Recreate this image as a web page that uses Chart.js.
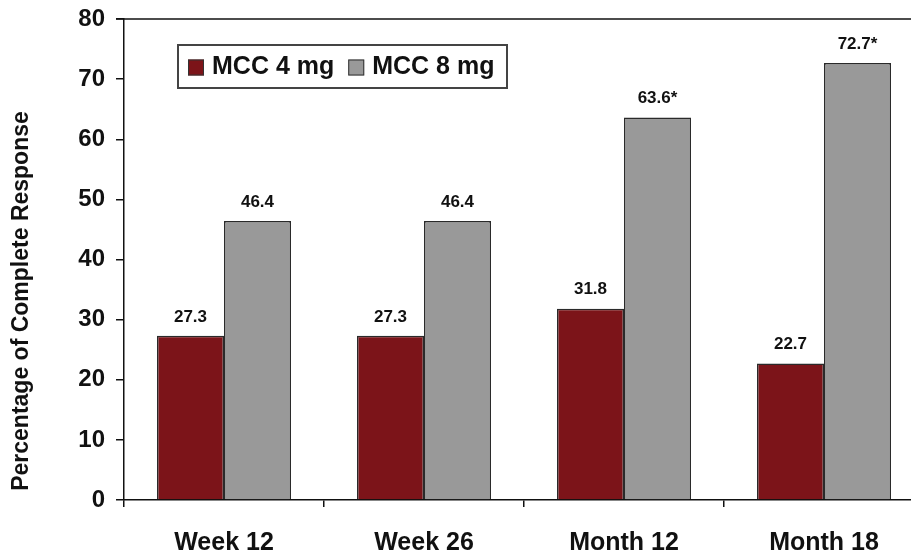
<!DOCTYPE html>
<html>
<head>
<meta charset="utf-8">
<script src="https://cdn.jsdelivr.net/npm/chart.js@4/dist/chart.umd.min.js"></script>
<style>
  html, body { margin: 0; padding: 0; background: #fff; overflow: hidden; }
  #wrap { width: 911px; height: 556px; overflow: hidden; }
  canvas { display: block; }
</style>
</head>
<body>
<div id="wrap"><canvas id="c" width="924" height="556"></canvas></div>
<script>
// Time points and response rates (%)
const categories = ['Week 12', 'Week 26', 'Month 12', 'Month 18'];
const seriesNames = ['MCC 4 mg', 'MCC 8 mg'];
const mcc4 = [27.3, 27.3, 31.8, 22.7];
const mcc8 = [46.4, 46.4, 63.6, 72.7];
// Significance markers shown next to the value labels
const mcc4Sig = [false, false, false, false];
const mcc8Sig = [false, false, true, true];
const yTicks = [0, 10, 20, 30, 40, 50, 60, 70, 80];
const yTitle = 'Percentage of Complete Response';

const FONT = 'Arial, "Liberation Sans", Helvetica, sans-serif';
const RED = '#7c1419';
const GRAY = '#999999';

// Value labels above each bar
const valueLabels = {
  id: 'valueLabels',
  afterDatasetsDraw(chart) {
    const ctx = chart.ctx;
    const flags = [mcc4Sig, mcc8Sig];
    ctx.save();
    ctx.font = 'bold 17px ' + FONT;
    ctx.fillStyle = '#111';
    ctx.textAlign = 'center';
    ctx.textBaseline = 'middle';
    chart.data.datasets.forEach((ds, di) => {
      chart.getDatasetMeta(di).data.forEach((bar, i) => {
        const txt = ds.data[i].toFixed(1) + (flags[di][i] ? '*' : '');
        ctx.fillText(txt, bar.x, bar.y - 19);
      });
    });
    ctx.restore();
  }
};

// Boxed legend inside the plot area, top frame line and the axis title
const boxLegend = {
  id: 'boxLegend',
  afterDraw(chart) {
    const ctx = chart.ctx;
    const area = chart.chartArea;
    ctx.save();
    // top frame line
    ctx.strokeStyle = '#111';
    ctx.lineWidth = 1.5;
    ctx.beginPath();
    ctx.moveTo(area.left - 8, area.top);
    ctx.lineTo(area.right, area.top);
    ctx.stroke();

    // y axis title
    ctx.save();
    ctx.translate(22, 301);
    ctx.rotate(-Math.PI / 2);
    ctx.font = 'bold 23px ' + FONT;
    ctx.fillStyle = '#111';
    ctx.textAlign = 'center';
    ctx.textBaseline = 'middle';
    ctx.fillText(yTitle, 0, 0);
    ctx.restore();

    // legend box
    const bx = 178, by = 45, bw = 329, bh = 43;
    ctx.fillStyle = '#fff';
    ctx.fillRect(bx, by, bw, bh);
    ctx.strokeStyle = '#444';
    ctx.lineWidth = 2;
    ctx.strokeRect(bx, by, bw, bh);

    ctx.font = 'bold 25px ' + FONT;
    ctx.textBaseline = 'middle';
    ctx.textAlign = 'left';
    let x = bx + 10;
    const cy = by + bh / 2 + 1;
    chart.data.datasets.forEach((ds) => {
      ctx.fillStyle = ds.backgroundColor;
      ctx.fillRect(x, cy - 8, 16, 16);
      ctx.strokeStyle = '#333';
      ctx.lineWidth = 1;
      ctx.strokeRect(x + 0.5, cy - 7.5, 15, 15);
      ctx.fillStyle = '#111';
      ctx.fillText(ds.label, x + 24, cy);
      x += 24 + ctx.measureText(ds.label).width + 14;
    });
    ctx.restore();
  }
};

new Chart(document.getElementById('c'), {
  type: 'bar',
  data: {
    labels: categories,
    datasets: [
      { label: seriesNames[0], data: mcc4, backgroundColor: RED, borderColor: '#2a2a2a', borderWidth: 1.5 },
      { label: seriesNames[1], data: mcc8, backgroundColor: GRAY, borderColor: '#2a2a2a', borderWidth: 1.5 }
    ]
  },
  options: {
    responsive: false,
    animation: false,
    devicePixelRatio: 1,
    layout: { padding: { top: 19, right: 0, left: 0, bottom: 0 } },
    datasets: { bar: { categoryPercentage: 0.67, barPercentage: 1.0 } },
    plugins: {
      legend: { display: false },
      tooltip: { enabled: false }
    },
    scales: {
      x: {
        afterFit(scale) { scale.height = 56; scale.paddingLeft = 0; scale.paddingRight = 0; },
        grid: { display: true, drawOnChartArea: false, drawTicks: true, tickLength: 7, color: '#111', lineWidth: 1.5, offset: true },
        border: { display: true, color: '#111', width: 1.5 },
        ticks: { color: '#111', font: { family: FONT, size: 25, weight: 'bold' }, padding: 21, maxRotation: 0 }
      },
      y: {
        min: 0,
        max: 80,
        afterFit(scale) { scale.width = 124; scale.paddingTop = 0; scale.paddingBottom = 0; },
        afterBuildTicks(scale) { scale.ticks = yTicks.map(v => ({ value: v })); },
        grid: { display: true, drawOnChartArea: false, drawTicks: true, tickLength: 8, color: '#111', lineWidth: 1.5 },
        border: { display: true, color: '#111', width: 1.5 },
        ticks: { color: '#111', font: { family: FONT, size: 24, weight: 'bold' }, padding: 11 }
      }
    }
  },
  plugins: [valueLabels, boxLegend]
});
</script>
</body>
</html>
